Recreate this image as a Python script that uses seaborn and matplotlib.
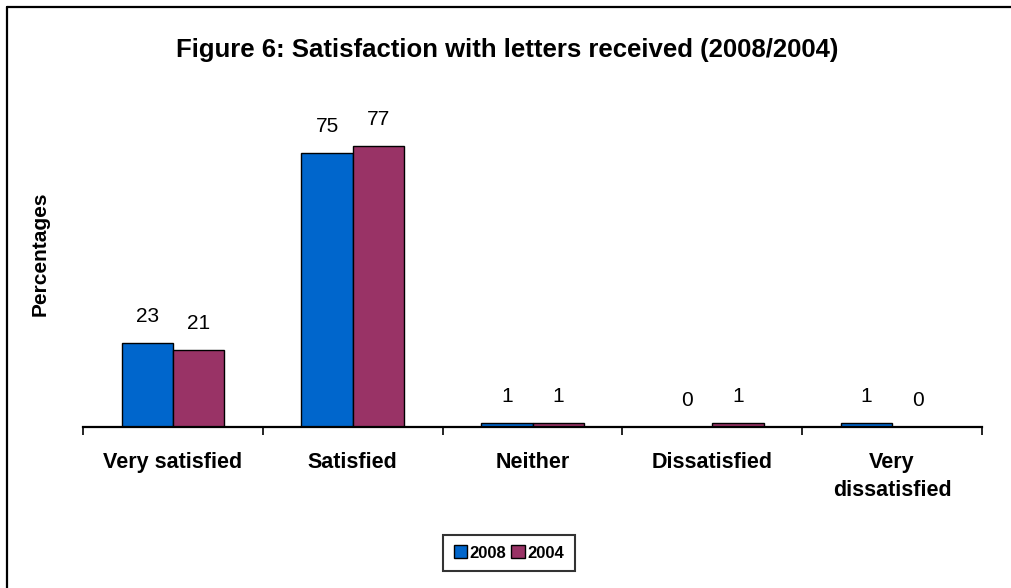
import matplotlib
matplotlib.use("Agg")
import matplotlib.pyplot as plt
from matplotlib.patches import Patch
from matplotlib.lines import Line2D
import seaborn as sns
import pandas as pd

categories = ["Very satisfied", "Satisfied", "Neither", "Dissatisfied", "Very\ndissatisfied"]
years = ["2008", "2004"]
values_2008 = [23, 75, 1, 0, 1]
values_2004 = [21, 77, 1, 1, 0]
colors = {"2008": "#0066CC", "2004": "#993366"}

df = pd.DataFrame({
    "category": categories * 2,
    "year": ["2008"] * len(categories) + ["2004"] * len(categories),
    "value": values_2008 + values_2004,
})

sns.set_theme(style="white")
plt.rcParams["font.family"] = ["Liberation Sans", "DejaVu Sans"]
plt.rcParams["text.color"] = "black"
plt.rcParams["axes.labelcolor"] = "black"
plt.rcParams["xtick.color"] = "black"

W, H = 1012, 588
fig = plt.figure(figsize=(W / 100, H / 100), dpi=100)
ax = fig.add_axes([83 / W, (H - 427) / H, 899 / W, 310 / H])

sns.barplot(data=df, x="category", y="value", hue="year", hue_order=years,
            palette=colors, order=categories, width=0.57, edgecolor="black",
            linewidth=1.0, saturation=1, legend=False, ax=ax)

ax.set_ylim(0, 85)
ax.set_xlim(-0.5, len(categories) - 0.5)

# value labels above each bar
for container, vals in zip(ax.containers, [values_2008, values_2004]):
    for bar, v in zip(container, vals):
        ax.annotate(str(v), (bar.get_x() + bar.get_width() / 2, bar.get_height()),
                    xytext=(0, 27), textcoords="offset pixels",
                    ha="center", va="center", fontsize=15, color="black")

for side in ["top", "right", "left"]:
    ax.spines[side].set_visible(False)
ax.spines["bottom"].set_linewidth(1.6)
ax.spines["bottom"].set_color("black")
ax.set_yticks([])
ax.set_ylabel("")
ax.set_xlabel("")
fig.text(40 / W, 1 - 254 / H, "Percentages", rotation=90, ha="center", va="center",
         fontsize=15, fontweight="bold")

ax.set_xticks(range(len(categories)))
ax.set_xticklabels(categories, fontsize=15.5, fontweight="bold", linespacing=1.45)
ax.tick_params(axis="x", which="major", length=0, pad=18)
ax.set_xticks([i - 0.5 for i in range(len(categories) + 1)], minor=True)
ax.tick_params(axis="x", which="minor", length=6, width=1.2, color="black",
               direction="out", bottom=True)

fig.text(507 / W, 1 - 50 / H, "Figure 6: Satisfaction with letters received (2008/2004)",
         ha="center", va="center", fontsize=18.5, fontweight="bold")

handles = [Patch(facecolor=colors[y], edgecolor="black", linewidth=1.0, label=y) for y in years]
leg = fig.legend(handles=handles, loc="center", bbox_to_anchor=(509 / W, 1 - 553 / H),
                 ncol=2, frameon=True, fancybox=False, fontsize=12,
                 handlelength=0.8, handleheight=0.8, handletextpad=0.15,
                 columnspacing=0.3, borderpad=0.65, borderaxespad=0)
leg.get_frame().set_edgecolor("black")
leg.get_frame().set_linewidth(1.5)
for t in leg.get_texts():
    t.set_fontweight("bold")

# outer chart border (left and top edges)
fig.add_artist(Line2D([7 / W, 7 / W], [-0.05, 1 - 7 / H], transform=fig.transFigure,
                      color="black", linewidth=1.6))
fig.add_artist(Line2D([7 / W, 1.05], [1 - 7 / H, 1 - 7 / H], transform=fig.transFigure,
                      color="black", linewidth=1.6))

fig.savefig("out.png", dpi=100)
